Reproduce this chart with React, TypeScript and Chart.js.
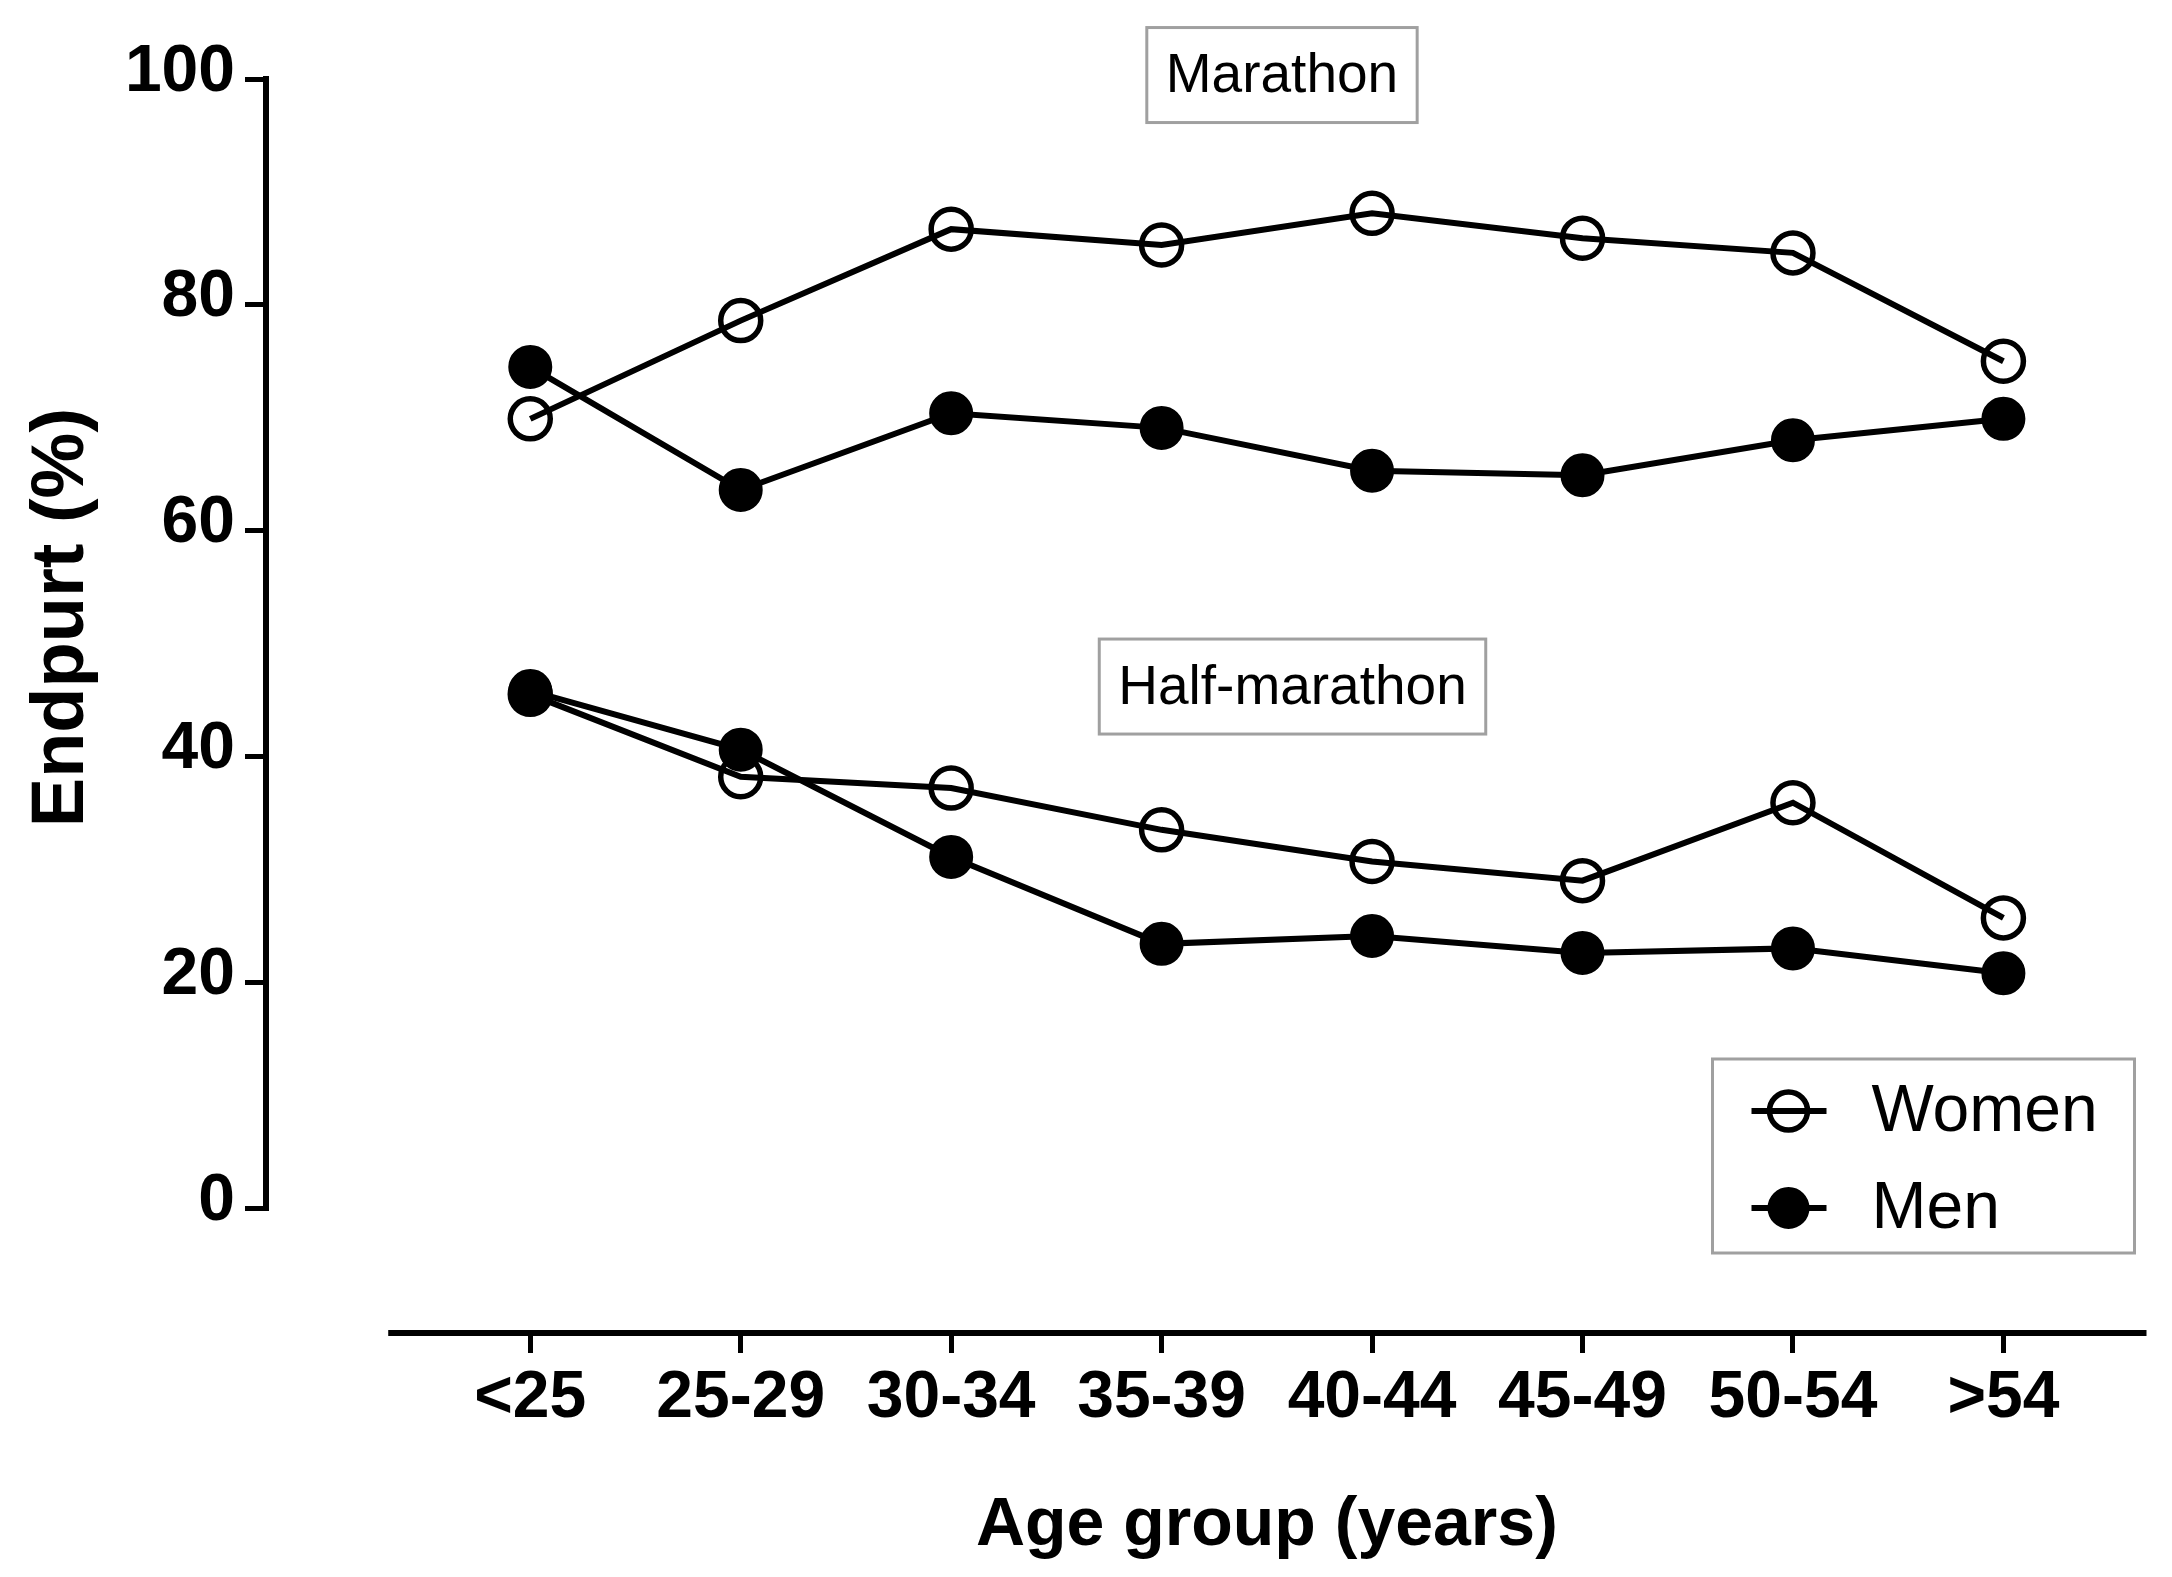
import { useEffect, useRef } from 'react';
import { Chart, registerables } from 'chart.js';

Chart.register(...registerables);

const ageGroups = ['<25', '25-29', '30-34', '35-39', '40-44', '45-49', '50-54', '>54'];
const marathonWomen = [69.9, 78.6, 86.7, 85.3, 88.1, 85.9, 84.6, 75.0];
const marathonMen = [74.5, 63.6, 70.4, 69.1, 65.3, 64.9, 68.0, 69.9];
const halfWomen = [45.5, 38.2, 37.2, 33.5, 30.7, 29.0, 35.9, 25.7];
const halfMen = [45.8, 40.6, 31.1, 23.4, 24.1, 22.6, 23.0, 20.8];
const yTicks = [0, 20, 40, 60, 80, 100];
const legendLabels = ['Women', 'Men'];
const raceLabels = ['Marathon', 'Half-marathon'];

const FONT = "'Liberation Sans', Arial, Helvetica, sans-serif";

const toPoints = (values: number[]) => values.map((v, i) => ({ x: i, y: v }));

// prism-style extras: offset axis lines, titles, boxed labels and the legend
const prismPlugin = {
  id: 'prismExtras',
  afterDraw(chart: any) {
    const { ctx, chartArea, scales } = chart;
    const x = scales.x;
    const y = scales.y;
    ctx.save();

    // axis lines
    ctx.strokeStyle = '#000';
    ctx.lineCap = 'square';
    ctx.lineWidth = 6;
    ctx.beginPath();
    ctx.moveTo(chartArea.left + 3, y.getPixelForValue(yTicks[0]));
    ctx.lineTo(chartArea.left + 3, y.getPixelForValue(yTicks[yTicks.length - 1]));
    ctx.stroke();
    ctx.lineCap = 'butt';
    ctx.beginPath();
    ctx.moveTo(x.getPixelForValue(-0.675), chartArea.bottom + 3);
    ctx.lineTo(chartArea.right, chartArea.bottom + 3);
    ctx.stroke();

    // axis titles
    ctx.fillStyle = '#000';
    ctx.font = `bold 68px ${FONT}`;
    ctx.textAlign = 'center';
    ctx.textBaseline = 'alphabetic';
    ctx.fillText('Age group (years)', x.getPixelForValue(3.5), chartArea.bottom + 215);
    ctx.save();
    ctx.translate(chartArea.left - 180, y.getPixelForValue(52.3));
    ctx.rotate(-Math.PI / 2);
    ctx.font = `bold 74px ${FONT}`;
    ctx.fillText('Endpurt (%)', 0, 0);
    ctx.restore();

    // boxed race labels
    const boxAt = [
      { x: 3.572, y: 100.35 },
      { x: 3.622, y: 46.19 },
    ];
    ctx.font = `55px ${FONT}`;
    ctx.textBaseline = 'middle';
    raceLabels.forEach((label, i) => {
      const cx = x.getPixelForValue(boxAt[i].x);
      const cy = y.getPixelForValue(boxAt[i].y);
      const w = ctx.measureText(label).width + 38;
      const h = 95;
      ctx.strokeStyle = '#a0a0a0';
      ctx.lineWidth = 3;
      ctx.strokeRect(cx - w / 2, cy - h / 2, w, h);
      ctx.fillStyle = '#000';
      ctx.fillText(label, cx, cy + 2);
    });

    // legend
    const lx = chartArea.right - 434;
    const ly = chartArea.bottom - 271;
    ctx.strokeStyle = '#a0a0a0';
    ctx.lineWidth = 3;
    ctx.strokeRect(lx, ly, 422, 194);
    ctx.font = `66px ${FONT}`;
    ctx.textAlign = 'left';
    legendLabels.forEach((label, i) => {
      const ds = chart.data.datasets[i];
      const cy = ly + 52 + i * 97;
      ctx.strokeStyle = '#000';
      ctx.lineWidth = ds.borderWidth;
      ctx.beginPath();
      ctx.moveTo(lx + 39, cy);
      ctx.lineTo(lx + 114, cy);
      ctx.stroke();
      ctx.beginPath();
      ctx.arc(lx + 76, cy, ds.pointRadius - 1, 0, Math.PI * 2);
      ctx.fillStyle = ds.pointBackgroundColor;
      ctx.fill();
      ctx.lineWidth = ds.pointBorderWidth;
      ctx.strokeStyle = ds.pointBorderColor;
      ctx.stroke();
      ctx.fillStyle = '#000';
      ctx.fillText(label, lx + 159, cy + 2);
    });

    ctx.restore();
  },
};

const womenStyle = {
  borderColor: '#000',
  borderWidth: 6,
  pointRadius: 20,
  pointBorderWidth: 5.5,
  pointBorderColor: '#000',
  pointBackgroundColor: 'rgba(0,0,0,0)',
  tension: 0,
  order: 1,
};

const menStyle = {
  borderColor: '#000',
  borderWidth: 6,
  pointRadius: 21,
  pointBorderWidth: 2,
  pointBorderColor: '#000',
  pointBackgroundColor: '#000',
  tension: 0,
  order: 0,
};

export default function App() {
  const canvasRef = useRef<HTMLCanvasElement>(null);

  useEffect(() => {
    const canvas = canvasRef.current;
    if (!canvas) return;
    const ctx = canvas.getContext('2d');
    if (!ctx) return;

    const chart = new Chart(ctx, {
      type: 'line',
      data: {
        datasets: [
          { label: 'Women (marathon)', data: toPoints(marathonWomen), ...womenStyle },
          { label: 'Men (marathon)', data: toPoints(marathonMen), ...menStyle },
          { label: 'Women (half-marathon)', data: toPoints(halfWomen), ...womenStyle },
          { label: 'Men (half-marathon)', data: toPoints(halfMen), ...menStyle },
        ] as any,
      },
      options: {
        responsive: false,
        animation: false,
        layout: { padding: { top: 79, right: 25, left: 0, bottom: 0 } },
        plugins: {
          legend: { display: false },
          tooltip: { enabled: false },
        },
        scales: {
          x: {
            type: 'linear',
            min: -1.27,
            max: 7.68,
            afterFit: (s: any) => {
              s.height = 247;
            },
            afterBuildTicks: (s: any) => {
              s.ticks = ageGroups.map((_, i) => ({ value: i }));
            },
            grid: { drawOnChartArea: false, drawTicks: true, tickLength: 23, lineWidth: 5, color: '#000' },
            border: { display: false },
            ticks: {
              autoSkip: false,
              maxRotation: 0,
              padding: 6,
              color: '#000',
              font: { family: FONT, size: 66, weight: 'bold' },
              callback: (v: any) => ageGroups[v] ?? '',
            },
          },
          y: {
            type: 'linear',
            min: -10.8,
            max: 100,
            afterFit: (s: any) => {
              s.width = 263;
            },
            afterBuildTicks: (s: any) => {
              s.ticks = yTicks.map((v) => ({ value: v }));
            },
            grid: { drawOnChartArea: false, drawTicks: true, tickLength: 18, lineWidth: 5, color: '#000' },
            border: { display: false },
            ticks: {
              padding: 10,
              color: '#000',
              font: { family: FONT, size: 66, weight: 'bold', lineHeight: 0.2 },
              callback: (v: any) => [String(v), ''],
            },
          },
        },
      } as any,
      plugins: [prismPlugin],
    });

    return () => {
      chart.destroy();
    };
  }, []);

  return (
    <div style={{ position: 'fixed', left: 0, top: 0, width: 2172, height: 1577, background: '#fff' }}>
      <canvas ref={canvasRef} width={2172} height={1577} style={{ display: 'block' }} />
    </div>
  );
}
